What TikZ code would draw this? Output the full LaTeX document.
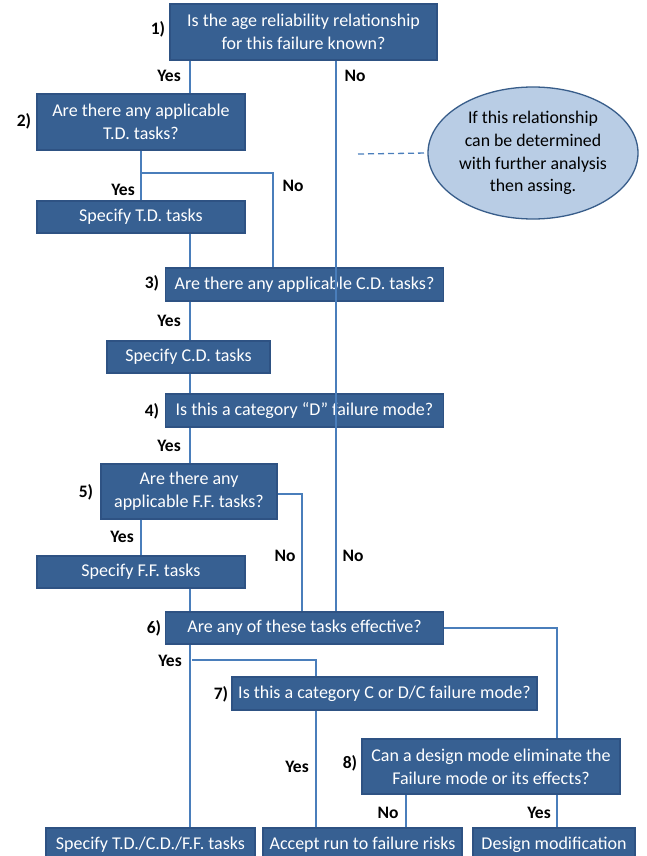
\documentclass[tikz,border=0pt]{standalone}
\usepackage{fontspec}
\setmainfont{Carlito}
\usetikzlibrary{shapes.geometric}
\definecolor{boxfill}{HTML}{376092}
\definecolor{boxline}{HTML}{2E5283}
\definecolor{connc}{HTML}{4A7EBB}
\definecolor{ellfill}{HTML}{B9CDE5}
\definecolor{ellline}{HTML}{385D8A}
\tikzset{
  box/.style={draw=boxline, fill=boxfill, line width=1.2pt, text=white,
    font=\fontsize{18}{23}\selectfont, align=center, inner sep=0pt},
  lbl/.style={font=\fontsize{17.5}{18}\selectfont\bfseries, text=black, inner sep=0pt},
  conn/.style={draw=connc, line width=1.3pt},
}
\begin{document}
\begin{tikzpicture}[x=1pt,y=-1pt]
\useasboundingbox (0,0) rectangle (647,856);
\clip (0,0) rectangle (647,856);
% boxes
\node[box, minimum width=267pt, minimum height=56pt] (q1) at (303.5,32) {Is the age reliability relationship\\for this failure known?};
\node[box, minimum width=208pt, minimum height=56pt] (q2) at (141,122) {Are there any applicable\\T.D. tasks?};
\node[box, minimum width=208pt, minimum height=32pt] (td) at (141,217) {Specify T.D. tasks};
\node[box, minimum width=278pt, minimum height=33pt] (q3) at (304.5,284.5) {Are there any applicable C.D. tasks?};
\node[box, minimum width=163pt, minimum height=32pt] (cd) at (188.5,357) {Specify C.D. tasks};
\node[box, minimum width=278pt, minimum height=33pt] (q4) at (304.5,410.5) {Is this a category “D” failure mode?};
\node[box, minimum width=176pt, minimum height=55pt] (q5) at (189,491.5) {Are there any\\applicable F.F. tasks?};
\node[box, minimum width=208pt, minimum height=32pt] (ff) at (141,572) {Specify F.F. tasks};
\node[box, minimum width=278pt, minimum height=32pt] (q6) at (304.5,628) {Are any of these tasks effective?};
\node[box, minimum width=305pt, minimum height=33pt] (q7) at (384.5,693.5) {Is this a category C or D/C failure mode?};
\node[box, minimum width=258pt, minimum height=55pt] (q8) at (491,766.5) {Can a design mode eliminate the\\Failure mode or its effects?};
\node[box, minimum width=209pt, minimum height=34pt] (r1) at (150.5,845) {Specify T.D./C.D./F.F. tasks};
\node[box, minimum width=199pt, minimum height=34pt] (r2) at (362.5,845) {Accept run to failure risks};
\node[box, minimum width=162pt, minimum height=34pt] (r3) at (554,845) {Design modification};
% ellipse
\node[ellipse, draw=ellline, fill=ellfill, line width=1.3pt, minimum width=210pt, minimum height=132pt,
  inner sep=0pt, align=center, font=\fontsize{17.8}{22.7}\selectfont] (ell) at (533,153)
  {If this relationship\\can be determined\\with further analysis\\then assing.};
% x guides
\coordinate (xa) at (190,0);
\coordinate (xb) at (336,0);
\coordinate (xc) at (141,0);
\coordinate (xd) at (273,0);
\coordinate (xe) at (302,0);
\coordinate (xf) at (557,0);
\coordinate (xg) at (316,0);
\coordinate (xh) at (406,0);
\coordinate (j2) at (141,173);
\coordinate (j6) at (192,660);
\coordinate (dstart) at (358,154);
% connectors
\draw[conn] (q1.south -| xa) -- (q2.north -| xa);
\draw[conn] (q1.south -| xb) -- (q6.north -| xb);
\draw[conn] (q2.south -| xc) -- (td.north -| xc);
\draw[conn] (j2) -| (q3.north -| xd);
\draw[conn] (td.south -| xa) -- (q3.north -| xa);
\draw[conn] (q3.south -| xa) -- (cd.north -| xa);
\draw[conn] (cd.south -| xa) -- (q4.north -| xa);
\draw[conn] (q4.south -| xa) -- (q5.north -| xa);
\draw[conn] ([yshift=-2.5pt]q5.east) -| (q6.north -| xe);
\draw[conn] (q5.south -| xc) -- (ff.north -| xc);
\draw[conn] (ff.south -| xa) -- (q6.north -| xa);
\draw[conn] (q6.east) -| (q8.north -| xf);
\draw[conn] (q6.south -| xa) -- (r1.north -| xa);
\draw[conn] (j6) -| (q7.north -| xg);
\draw[conn] (q7.south -| xg) -- (r2.north -| xg);
\draw[conn] (q8.south -| xh) -- (r2.north -| xh);
\draw[conn] (q8.south -| xf) -- (r3.north -| xf);
\draw[draw=connc, line width=1.3pt, dash pattern=on 6pt off 4pt] (dstart) -- (ell.west);
% labels
\node[lbl] (n1) at (158,29) {1)};
\node[lbl] (n2) at (24,121) {2)};
\node[lbl] (n3) at (152,283) {3)};
\node[lbl] (n4) at (152,411) {4)};
\node[lbl] (n5) at (86,492) {5)};
\node[lbl] (n6) at (154,628) {6)};
\node[lbl] (n7) at (221,694) {7)};
\node[lbl] (n8) at (350,763) {8)};
\node[lbl] (y1) at (169,76) {Yes};
\node[lbl] (y2) at (123,190) {Yes};
\node[lbl] (y3) at (169,321) {Yes};
\node[lbl] (y4) at (169,446) {Yes};
\node[lbl] (y5) at (122,537) {Yes};
\node[lbl] (y6) at (170,661) {Yes};
\node[lbl] (y7) at (297,767) {Yes};
\node[lbl] (y8) at (539,813) {Yes};
\node[lbl] (o1) at (355,76) {No};
\node[lbl] (o2) at (293,186) {No};
\node[lbl] (o3) at (285,556) {No};
\node[lbl] (o4) at (353,556) {No};
\node[lbl] (o5) at (388,813) {No};
\end{tikzpicture}
\end{document}
